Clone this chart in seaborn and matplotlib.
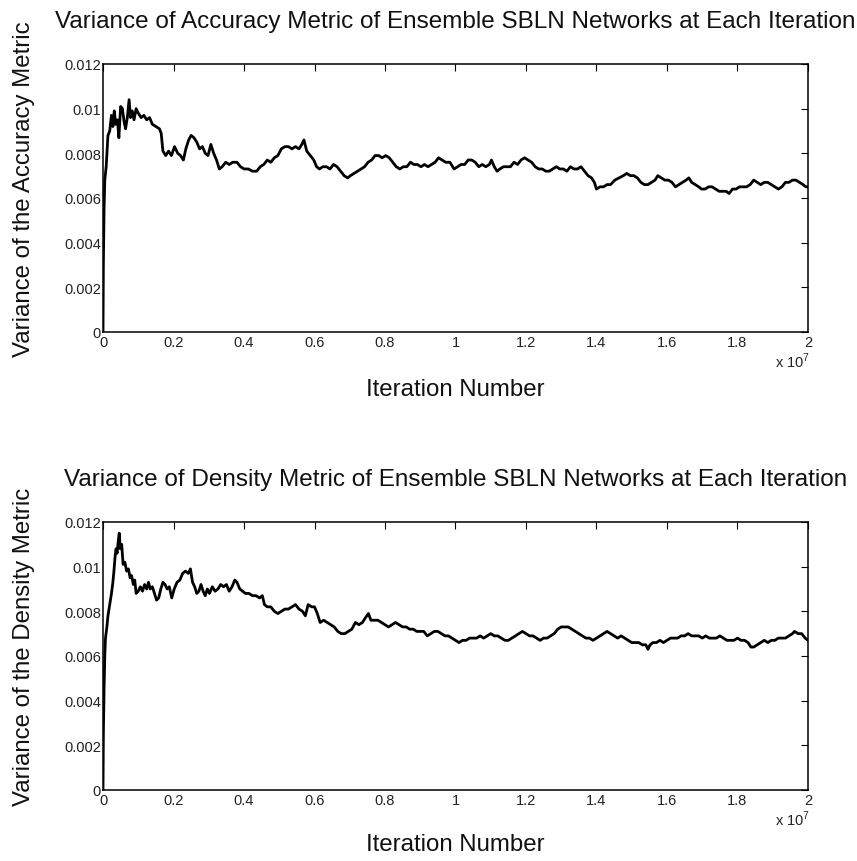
import matplotlib
matplotlib.use('Agg')
import matplotlib.pyplot as plt
import numpy as np
import pandas as pd
import seaborn as sns

# Iteration number (in units of 1e7) and variance (in units of 1e-3)
acc_iter = [0, 0.001, 0.003, 0.005, 0.009, 0.014, 0.019, 0.024, 0.028, 0.032, 0.036, 0.041, 0.045, 0.050,
            0.055, 0.060, 0.064, 0.069, 0.074, 0.078, 0.083, 0.088, 0.094, 0.100, 0.108, 0.116, 0.124, 0.132,
            0.140, 0.150, 0.160, 0.165, 0.170, 0.178, 0.186, 0.194, 0.203, 0.212, 0.220, 0.228, 0.235, 0.243,
            0.250, 0.258, 0.266, 0.274, 0.282, 0.290, 0.298, 0.306, 0.314, 0.322, 0.330, 0.338, 0.348, 0.358,
            0.368, 0.380, 0.390, 0.400, 0.412, 0.424, 0.436, 0.446, 0.456, 0.466, 0.476, 0.486, 0.496, 0.506,
            0.516, 0.526, 0.536, 0.546, 0.556, 0.564, 0.570, 0.578, 0.588, 0.598, 0.606, 0.614, 0.624, 0.634,
            0.644, 0.654, 0.664, 0.674, 0.684, 0.694, 0.702, 0.712, 0.722, 0.732, 0.742, 0.752, 0.762, 0.772,
            0.782, 0.792, 0.802, 0.812, 0.822, 0.832, 0.842, 0.852, 0.862, 0.872, 0.882, 0.892, 0.902, 0.912,
            0.922, 0.932, 0.942, 0.952, 0.962, 0.972, 0.984, 0.996, 1.006, 1.016, 1.026, 1.036, 1.046, 1.056,
            1.066, 1.076, 1.086, 1.096, 1.102, 1.110, 1.118, 1.126, 1.136, 1.146, 1.156, 1.166, 1.176, 1.186,
            1.196, 1.206, 1.216, 1.226, 1.236, 1.246, 1.256, 1.266, 1.276, 1.286, 1.296, 1.306, 1.316, 1.326,
            1.336, 1.346, 1.356, 1.366, 1.376, 1.386, 1.394, 1.400, 1.410, 1.420, 1.430, 1.440, 1.452, 1.464,
            1.476, 1.486, 1.496, 1.506, 1.516, 1.526, 1.536, 1.546, 1.556, 1.566, 1.574, 1.584, 1.594, 1.604,
            1.614, 1.624, 1.634, 1.644, 1.654, 1.662, 1.670, 1.680, 1.690, 1.698, 1.708, 1.718, 1.728, 1.738,
            1.748, 1.758, 1.768, 1.776, 1.786, 1.796, 1.806, 1.816, 1.826, 1.836, 1.846, 1.856, 1.866, 1.876,
            1.886, 1.896, 1.906, 1.916, 1.926, 1.936, 1.946, 1.956, 1.966, 1.976, 1.986, 1.994, 2.000]
acc_var = [0.0, 3.0, 5.5, 6.8, 7.4, 8.8, 9.0, 9.7, 9.2, 9.9, 9.3, 9.5, 8.7, 10.1,
           10.0, 9.4, 9.1, 9.6, 10.4, 9.6, 9.9, 9.5, 10.0, 9.8, 9.6, 9.7, 9.5, 9.6,
           9.3, 9.2, 9.1, 8.9, 8.1, 7.9, 8.1, 7.9, 8.3, 8.0, 7.9, 7.7, 8.2, 8.6,
           8.8, 8.7, 8.5, 8.2, 8.3, 8.0, 7.9, 8.4, 8.0, 7.7, 7.3, 7.4, 7.6, 7.5,
           7.6, 7.6, 7.4, 7.3, 7.3, 7.2, 7.2, 7.4, 7.5, 7.7, 7.6, 7.8, 7.9, 8.2,
           8.3, 8.3, 8.2, 8.3, 8.2, 8.4, 8.6, 8.1, 7.9, 7.7, 7.4, 7.3, 7.4, 7.4,
           7.3, 7.5, 7.4, 7.2, 7.0, 6.9, 7.0, 7.1, 7.2, 7.3, 7.4, 7.6, 7.7, 7.9,
           7.9, 7.8, 7.9, 7.8, 7.6, 7.4, 7.3, 7.4, 7.4, 7.6, 7.5, 7.5, 7.4, 7.5,
           7.4, 7.5, 7.6, 7.8, 7.7, 7.6, 7.6, 7.3, 7.4, 7.5, 7.5, 7.7, 7.7, 7.6,
           7.4, 7.5, 7.4, 7.5, 7.7, 7.4, 7.2, 7.3, 7.4, 7.4, 7.4, 7.6, 7.5, 7.7,
           7.8, 7.7, 7.6, 7.4, 7.3, 7.3, 7.2, 7.2, 7.3, 7.4, 7.3, 7.3, 7.2, 7.4,
           7.3, 7.3, 7.4, 7.2, 7.0, 6.9, 6.7, 6.4, 6.5, 6.5, 6.6, 6.6, 6.8, 6.9,
           7.0, 7.1, 7.0, 7.0, 6.9, 6.7, 6.6, 6.6, 6.7, 6.8, 7.0, 6.9, 6.8, 6.8,
           6.7, 6.5, 6.6, 6.7, 6.8, 6.9, 6.7, 6.6, 6.5, 6.4, 6.4, 6.5, 6.5, 6.4,
           6.3, 6.3, 6.3, 6.2, 6.4, 6.4, 6.5, 6.5, 6.5, 6.6, 6.8, 6.7, 6.6, 6.7,
           6.7, 6.6, 6.5, 6.4, 6.5, 6.7, 6.7, 6.8, 6.8, 6.7, 6.6, 6.5, 6.5]

den_iter = [0, 0.001, 0.003, 0.005, 0.007, 0.011, 0.014, 0.019, 0.024, 0.028, 0.031, 0.034, 0.037, 0.040,
            0.043, 0.046, 0.049, 0.053, 0.057, 0.062, 0.067, 0.072, 0.077, 0.081, 0.086, 0.090, 0.094, 0.100,
            0.106, 0.112, 0.118, 0.124, 0.129, 0.134, 0.140, 0.146, 0.152, 0.158, 0.164, 0.170, 0.176, 0.182,
            0.188, 0.195, 0.202, 0.210, 0.218, 0.226, 0.234, 0.242, 0.248, 0.254, 0.260, 0.266, 0.272, 0.278,
            0.284, 0.290, 0.296, 0.302, 0.310, 0.318, 0.326, 0.334, 0.342, 0.350, 0.358, 0.366, 0.374, 0.380,
            0.388, 0.396, 0.404, 0.414, 0.424, 0.434, 0.444, 0.452, 0.458, 0.466, 0.476, 0.486, 0.496, 0.506,
            0.516, 0.526, 0.536, 0.546, 0.556, 0.566, 0.574, 0.582, 0.592, 0.600, 0.608, 0.616, 0.626, 0.636,
            0.646, 0.656, 0.666, 0.676, 0.686, 0.696, 0.706, 0.716, 0.726, 0.736, 0.744, 0.753, 0.760, 0.770,
            0.780, 0.790, 0.800, 0.810, 0.820, 0.830, 0.840, 0.850, 0.860, 0.870, 0.880, 0.890, 0.900, 0.910,
            0.920, 0.930, 0.940, 0.950, 0.960, 0.970, 0.980, 0.990, 1.000, 1.010, 1.020, 1.030, 1.040, 1.050,
            1.060, 1.070, 1.080, 1.090, 1.100, 1.110, 1.120, 1.130, 1.140, 1.150, 1.160, 1.170, 1.180, 1.190,
            1.200, 1.210, 1.220, 1.230, 1.240, 1.250, 1.260, 1.270, 1.280, 1.290, 1.300, 1.310, 1.320, 1.330,
            1.340, 1.350, 1.360, 1.370, 1.380, 1.390, 1.400, 1.410, 1.420, 1.430, 1.440, 1.450, 1.460, 1.470,
            1.480, 1.490, 1.500, 1.510, 1.520, 1.530, 1.540, 1.546, 1.552, 1.560, 1.570, 1.580, 1.590, 1.600,
            1.610, 1.620, 1.630, 1.640, 1.650, 1.660, 1.670, 1.680, 1.690, 1.700, 1.710, 1.720, 1.730, 1.740,
            1.750, 1.760, 1.770, 1.780, 1.790, 1.800, 1.810, 1.820, 1.830, 1.838, 1.846, 1.856, 1.866, 1.876,
            1.886, 1.896, 1.906, 1.916, 1.926, 1.936, 1.946, 1.956, 1.962, 1.972, 1.982, 1.992, 2.000]
den_var = [0.0, 2.5, 4.5, 6.0, 6.8, 7.3, 7.8, 8.3, 8.8, 9.3, 9.8, 10.4, 10.8, 10.6,
           11.1, 11.5, 10.8, 11.0, 10.1, 10.2, 9.8, 9.9, 9.5, 9.6, 9.2, 9.4, 8.8, 8.9,
           9.1, 8.9, 9.2, 9.0, 9.3, 9.0, 9.1, 8.8, 8.5, 8.6, 9.0, 9.3, 9.2, 9.0,
           9.1, 8.6, 9.0, 9.3, 9.4, 9.7, 9.8, 9.7, 9.9, 9.3, 9.1, 8.8, 8.9, 9.2,
           8.9, 8.7, 9.0, 8.8, 9.1, 8.9, 9.0, 9.2, 9.1, 9.2, 8.9, 9.1, 9.4, 9.3,
           9.0, 8.9, 8.8, 8.8, 8.7, 8.7, 8.6, 8.7, 8.3, 8.2, 8.2, 8.0, 7.9, 8.0,
           8.1, 8.1, 8.2, 8.3, 8.1, 8.0, 7.8, 8.3, 8.2, 8.2, 7.9, 7.5, 7.6, 7.5,
           7.4, 7.3, 7.1, 7.0, 7.0, 7.1, 7.2, 7.5, 7.4, 7.5, 7.7, 7.9, 7.6, 7.6,
           7.6, 7.5, 7.4, 7.3, 7.4, 7.5, 7.4, 7.3, 7.3, 7.2, 7.2, 7.1, 7.1, 7.1,
           6.9, 7.0, 7.1, 7.1, 7.0, 6.9, 6.9, 6.8, 6.7, 6.6, 6.7, 6.7, 6.8, 6.8,
           6.8, 6.9, 6.8, 6.9, 7.0, 6.9, 6.9, 6.8, 6.7, 6.7, 6.8, 6.9, 7.0, 7.1,
           7.0, 6.9, 6.9, 6.8, 6.7, 6.8, 6.8, 6.9, 7.0, 7.2, 7.3, 7.3, 7.3, 7.2,
           7.1, 7.0, 6.9, 6.8, 6.8, 6.7, 6.8, 6.9, 7.0, 7.1, 7.0, 6.9, 6.8, 6.9,
           6.8, 6.7, 6.6, 6.6, 6.6, 6.5, 6.5, 6.3, 6.5, 6.6, 6.6, 6.7, 6.6, 6.7,
           6.8, 6.8, 6.8, 6.9, 6.9, 7.0, 6.9, 6.9, 6.9, 6.8, 6.9, 6.8, 6.8, 6.8,
           6.9, 6.8, 6.7, 6.7, 6.7, 6.8, 6.7, 6.7, 6.6, 6.4, 6.4, 6.5, 6.6, 6.7,
           6.6, 6.7, 6.7, 6.8, 6.8, 6.8, 6.9, 7.0, 7.1, 7.0, 7.0, 6.8, 6.7]

x_ticks = [0, 0.2, 0.4, 0.6, 0.8, 1.0, 1.2, 1.4, 1.6, 1.8, 2.0]
x_tick_labels = ['0', '0.2', '0.4', '0.6', '0.8', '1', '1.2', '1.4', '1.6', '1.8', '2']
y_ticks = [0, 0.002, 0.004, 0.006, 0.008, 0.010, 0.012]
y_tick_labels = ['0', '0.002', '0.004', '0.006', '0.008', '0.01', '0.012']

titles = ['Variance of Accuracy Metric of Ensemble SBLN Networks at Each Iteration',
          'Variance of Density Metric of Ensemble SBLN Networks at Each Iteration']
ylabels = ['Variance of the Accuracy Metric', 'Variance of the Density Metric']

df_acc = pd.DataFrame({'iter': acc_iter, 'var': np.array(acc_var) * 1e-3})
df_den = pd.DataFrame({'iter': den_iter, 'var': np.array(den_var) * 1e-3})

sns.set_style('white')
plt.rcParams['font.family'] = ['Liberation Sans', 'DejaVu Sans']

fig = plt.figure(figsize=(8.57, 8.62), dpi=100)
ax1 = fig.add_axes([0.1202, 0.6137, 0.8226, 0.3109])
ax2 = fig.add_axes([0.1202, 0.0824, 0.8226, 0.3109])


def style_axes(ax, title, ylabel, xlab_y):
    ax.set_xlim(0, 2)
    ax.set_ylim(0, 0.012)
    ax.set_xticks(x_ticks)
    ax.set_xticklabels(x_tick_labels)
    ax.set_yticks(y_ticks)
    ax.set_yticklabels(y_tick_labels)
    ax.tick_params(direction='in', top=True, right=True, length=5, width=0.8,
                   labelsize=10.5, color='black', labelcolor='#222222')
    ax.tick_params(axis='x', pad=2.5)
    ax.tick_params(axis='y', pad=1.5)
    for s in ax.spines.values():
        s.set_linewidth(1.1)
        s.set_color('black')
    ax.set_title(title, fontsize=17.5, pad=26.5, color='#111111')
    ax.set_xlabel('Iteration Number', fontsize=17.3, color='#111111')
    ax.xaxis.set_label_coords(0.5, xlab_y)
    ax.xaxis.label.set_verticalalignment('center')
    ax.set_ylabel(ylabel, fontsize=17.3, color='#111111')
    ax.yaxis.set_label_coords(-0.112, 0.537)
    ax.yaxis.label.set_verticalalignment('center')
    ax.text(1.003, -0.13, r'x 10$^{\mathregular{7}}$', transform=ax.transAxes,
            ha='right', va='baseline', fontsize=10.5, color='#222222')


sns.lineplot(data=df_acc, x='iter', y='var', ax=ax1, color='black', linewidth=2.0, estimator=None)
sns.lineplot(data=df_den, x='iter', y='var', ax=ax2, color='black', linewidth=2.0, estimator=None)

style_axes(ax1, titles[0], ylabels[0], -0.213)
style_axes(ax2, titles[1], ylabels[1], -0.2015)

fig.savefig('out.png', dpi=100)
